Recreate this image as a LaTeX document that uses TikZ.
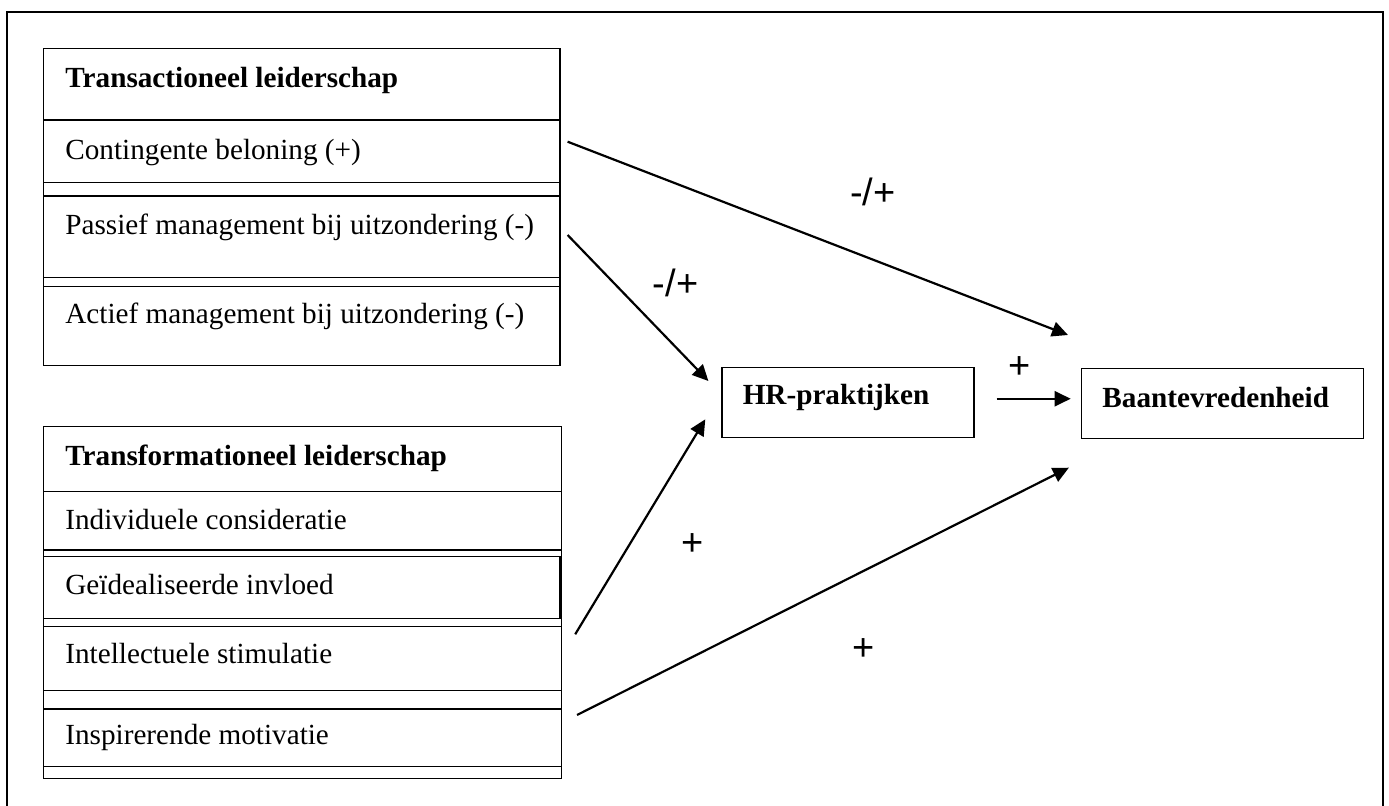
\documentclass[tikz,border=0pt]{standalone}
\usepackage{fontspec}
\setmainfont{Liberation Serif}
\newfontfamily\signfont{Liberation Sans}
\usetikzlibrary{arrows.meta}

\tikzset{
  rule/.style={line width=0.75pt},
  row/.style={anchor=base west, inner sep=0pt, font=\fontsize{14.6}{17}\selectfont},
  head/.style={row, font=\fontsize{14.6}{17}\selectfont\bfseries},
  box/.style={draw, rule, anchor=north west, inner ysep=0pt, inner xsep=10.5pt,
    align=left, font=\fontsize{14.6}{17}\selectfont\bfseries},
  sign/.style={inner sep=0pt, font=\signfont\fontsize{19}{22}\selectfont},
  arr/.style={line width=1.1pt, -{Triangle[length=8pt,width=7.5pt]}}
}

\begin{document}
\begin{tikzpicture}[x=0.5pt,y=-0.5pt]
\clip (0,0) rectangle (1389,806);
% open frame round the figure
\draw[line width=1pt] (6.7,830) -- (6.7,12) -- (1383,12) -- (1383,830);

% transactioneel leiderschap
\draw[rule] (43.3,48.3) rectangle (560,365.7);
\foreach \y in {120,182.7,196,277.3,286.7}
  \draw[rule] (43.3,\y) -- (560,\y);
\node[head] (TL) at (65,87.3) {Transactioneel leiderschap};
\node[row] (CB) at (65,159.3) {Contingente beloning (+)};
\node[row] (PM) at (65,235) {Passief management bij uitzondering (-)};
\node[row] (AM) at (65,324) {Actief management bij uitzondering (-)};

% transformationeel leiderschap
\draw[rule] (43.5,426.7) rectangle (561.7,778.3);
\foreach \y in {491.7,550,556.7,618.3,626.7,690.7,709,766.7}
  \draw[rule] (43.5,\y) -- (561.7,\y);
\draw[rule] (560,556.7) -- (560,618.3);
\node[head] (TF) at (65,466) {Transformationeel leiderschap};
\node[row] (IC) at (65,529.3) {Individuele consideratie};
\node[row] (GI) at (65,594.3) {Geïdealiseerde invloed};
\node[row] (IS) at (65,664) {Intellectuele stimulatie};
\node[row] (IM) at (65,745) {Inspirerende motivatie};

% outcomes
\node[box, text height=18.5pt, text depth=16.5pt, text width=105pt] (HR) at (721,367) {HR-praktijken};
\node[box, text height=19.6pt, text depth=15.4pt, text width=120pt] (BT) at (1080.7,368) {Baantevredenheid};

\coordinate (CBo) at (567.6,141.7);
\coordinate (PMo) at (567.6,235);
\coordinate (ISo) at (575.2,634.3);
\coordinate (IMo) at (577,715);
\coordinate (HRa) at (708.4,381);
\coordinate (HRb) at (705.3,419.3);
\coordinate (BTa) at (1068,335);
\coordinate (BTb) at (1068.9,467.7);

\path[arr]
  (CBo) edge (BTa)
  (PMo) edge (HRa)
  (ISo) edge (HRb)
  (IMo) edge (BTb);
\draw[arr, shorten <=11pt, shorten >=5pt] ([yshift=2pt]HR.east) -- ([yshift=2pt]HR.east -| BT.west);

\node[sign] (S1) at (873,192) {-/+};
\node[sign] (S2) at (675.5,283) {-/+};
\node[sign] (S3) at (1020,367.7) {+};
\node[sign] (S4) at (693,544.4) {+};
\node[sign] (S5) at (863.4,649.7) {+};
\end{tikzpicture}
\end{document}
